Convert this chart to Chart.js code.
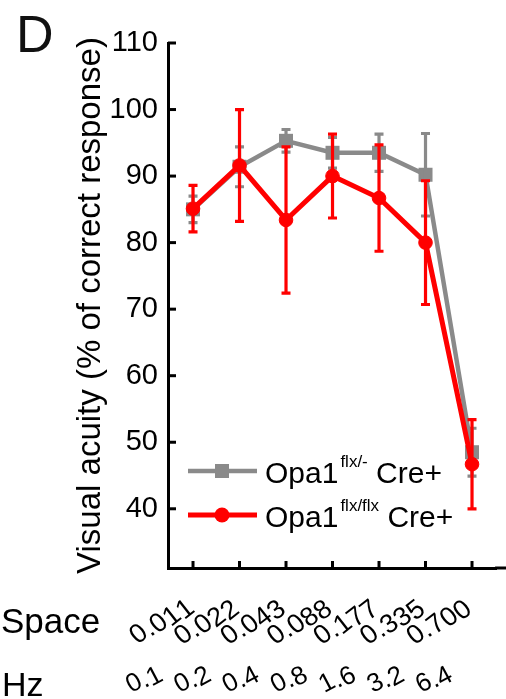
<!DOCTYPE html>
<html>
<head>
<meta charset="utf-8">
<script src="https://cdn.jsdelivr.net/npm/chart.js@4.4.1/dist/chart.umd.min.js"></script>
<style>
html,body{margin:0;padding:0;background:#fff;}
#wrap{width:506px;height:699px;}
</style>
</head>
<body>
<div id="wrap"><canvas id="c" width="506" height="699"></canvas></div>
<script>
// ---- data ----
const spaceLabels = ['0.011','0.022','0.043','0.088','0.177','0.335','0.700'];
const hzLabels = ['0.1','0.2','0.4','0.8','1.6','3.2','6.4'];
const yTickValues = [40,50,60,70,80,90,100,110];
const grayMean = [85.0, 91.4, 95.3, 93.5, 93.5, 90.2, 48.5];
const grayErr  = [2.0, 3.0, 1.7, 2.3, 2.8, 6.2, 3.6];
const redMean  = [85.1, 91.6, 83.4, 90.0, 86.7, 80.0, 46.7];
const redErr   = [3.5, 8.4, 11.0, 6.3, 8.0, 9.3, 6.7];
const grayName = {base:'Opa1', sup:'flx/-', tail:'Cre+'};
const redName  = {base:'Opa1', sup:'flx/flx', tail:'Cre+'};
const yTitle = 'Visual acuity (% of correct response)';
const panelLetter = 'D';
const rowNames = ['Space','Hz'];

const GRAY = '#8a8a8a';
const RED = '#ff0000';
const FONT = '"Liberation Sans", Arial, sans-serif';

const toPts = arr => arr.map((v,i)=>({x:i+1, y:v}));

const errorBars = {
  id:'errorBars',
  afterDatasetDraw(chart, args){
    const ds = chart.data.datasets[args.index];
    if(!ds.errors) return;
    const ctx = chart.ctx, xs = chart.scales.x, ys = chart.scales.y;
    ctx.save();
    ctx.strokeStyle = ds.borderColor;
    ctx.lineWidth = 3.2;
    ctx.lineCap = 'butt';
    ds.data.forEach((p,i)=>{
      const e = ds.errors[i];
      const x = xs.getPixelForValue(p.x);
      const yt = ys.getPixelForValue(p.y + e);
      const yb = ys.getPixelForValue(p.y - e);
      ctx.beginPath();
      ctx.moveTo(x, yt); ctx.lineTo(x, yb);
      ctx.moveTo(x-4.5, yt); ctx.lineTo(x+4.5, yt);
      ctx.moveTo(x-4.5, yb); ctx.lineTo(x+4.5, yb);
      ctx.stroke();
    });
    ctx.restore();
  }
};

function drawCurved(ctx, text, ax, ay, baseDeg, charDeg){
  const w = ctx.measureText(text).width;
  const b = baseDeg*Math.PI/180, c = charDeg*Math.PI/180;
  let sx = ax - w*Math.cos(b), sy = ay + w*Math.sin(b);
  let off = 0;
  for(const ch of text){
    const cw = ctx.measureText(ch).width;
    const cx = sx + (off + cw/2)*Math.cos(b);
    const cy = sy - (off + cw/2)*Math.sin(b);
    ctx.save();
    ctx.translate(cx, cy);
    ctx.rotate(-c);
    ctx.textAlign = 'center';
    ctx.fillText(ch, 0, 0);
    ctx.restore();
    off += cw;
  }
}

const decor = {
  id:'decor',
  afterDraw(chart){
    const ctx = chart.ctx, xs = chart.scales.x, ys = chart.scales.y;
    const ca = chart.chartArea;
    ctx.save();
    ctx.strokeStyle = '#000'; ctx.lineWidth = 3;
    // extend x axis line to the canvas edge
    ctx.beginPath(); ctx.moveTo(ca.right - 1, ca.bottom); ctx.lineTo(chart.width, ca.bottom); ctx.stroke();
    // inward ticks
    yTickValues.forEach(v=>{
      const y = ys.getPixelForValue(v);
      ctx.beginPath(); ctx.moveTo(ca.left, y); ctx.lineTo(ca.left+8, y); ctx.stroke();
    });
    spaceLabels.forEach((l,i)=>{
      const x = xs.getPixelForValue(i+1);
      ctx.beginPath(); ctx.moveTo(x, ca.bottom); ctx.lineTo(x, ca.bottom-7); ctx.stroke();
    });
    // panel letter
    ctx.fillStyle = '#111';
    ctx.font = '52px ' + FONT;
    ctx.textAlign = 'left'; ctx.textBaseline = 'alphabetic';
    ctx.fillText(panelLetter, 16, 52);
    // row names
    ctx.fillStyle = '#000';
    ctx.font = '35px ' + FONT;
    ctx.fillText(rowNames[0], 1, 633);
    ctx.font = '34px ' + FONT;
    ctx.fillText(rowNames[1], 2, 696);
    // space labels
    ctx.font = '27px ' + FONT;
    spaceLabels.forEach((l,i)=>{
      const x = xs.getPixelForValue(i+1);
      drawCurved(ctx, l, x + 2, 613, 28, 38);
    });
    // hz labels
    ctx.font = '26px ' + FONT;
    hzLabels.forEach((l,i)=>{
      const x = xs.getPixelForValue(i+1);
      drawCurved(ctx, l, x - 28 + 1.8*i, 681, 18, 28);
    });
    // legend
    const rows = [
      {name:grayName, color:GRAY, y:471, base:483, style:'rect', lw:4.5},
      {name:redName, color:RED, y:515, base:527, style:'circle', lw:5}
    ];
    rows.forEach(r=>{
      ctx.strokeStyle = r.color; ctx.fillStyle = r.color; ctx.lineWidth = r.lw;
      ctx.beginPath(); ctx.moveTo(188, r.y); ctx.lineTo(257, r.y); ctx.stroke();
      if(r.style==='rect'){ ctx.fillRect(222-7, r.y-7, 14, 14); }
      else { ctx.beginPath(); ctx.arc(222, r.y, 7.5, 0, Math.PI*2); ctx.fill(); }
      ctx.fillStyle = '#000';
      ctx.textAlign = 'left';
      ctx.font = '30px ' + FONT;
      let x = 265;
      ctx.fillText(r.name.base, x, r.base);
      x += ctx.measureText(r.name.base).width + 2;
      ctx.font = '17px ' + FONT;
      ctx.fillText(r.name.sup, x, r.base - 16);
      x += ctx.measureText(r.name.sup).width;
      ctx.font = '30px ' + FONT;
      x += ctx.measureText(' ').width;
      ctx.fillText(r.name.tail, x, r.base);
    });
    ctx.restore();
  }
};

new Chart(document.getElementById('c'), {
  type:'line',
  data:{
    datasets:[
      {label:'gray', data:toPts(grayMean), errors:grayErr, borderColor:GRAY, backgroundColor:GRAY,
       borderWidth:4.5, pointStyle:'rect', pointRadius:9.9, pointBorderWidth:0, order:2, tension:0},
      {label:'red', data:toPts(redMean), errors:redErr, borderColor:RED, backgroundColor:RED,
       borderWidth:5, pointStyle:'circle', pointRadius:6.8, pointBorderWidth:1, order:1, tension:0}
    ]
  },
  options:{
    responsive:false, animation:false, devicePixelRatio:1,
    layout:{padding:{top:43, left:0, right:0, bottom:0}},
    plugins:{legend:{display:false}, tooltip:{enabled:false}},
    scales:{
      x:{type:'linear', min:0.462, max:7.518, position:'bottom',
         grid:{display:false}, ticks:{display:false},
         border:{display:true, color:'#000', width:3},
         afterFit(s){ s.height = 131; s.paddingLeft = 0; s.paddingRight = 0; }},
      y:{type:'linear', min:31.1, max:110,
         afterBuildTicks(s){ s.ticks = yTickValues.map(v=>({value:v})); },
         grid:{display:false, drawTicks:false},
         border:{display:true, color:'#000', width:3},
         ticks:{color:'#000', font:{family:FONT, size:29}, padding:10},
         title:{display:true, text:yTitle, color:'#000', font:{family:FONT, size:33}, padding:{top:71, bottom:0}},
         afterFit(s){ s.width = 168; s.paddingLeft = 0; s.paddingRight = 0; }}
    }
  },
  plugins:[errorBars, decor]
});
</script>
</body>
</html>
